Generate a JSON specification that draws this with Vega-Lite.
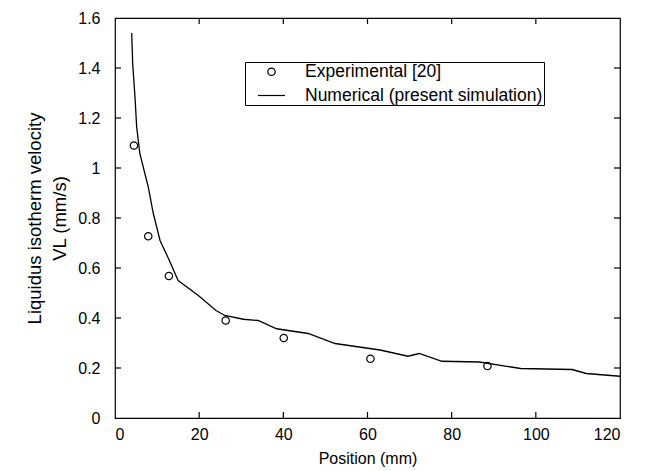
{
  "$schema": "https://vega.github.io/schema/vega-lite/v6.json",
  "width": 505,
  "height": 400,
  "autosize": "none",
  "padding": {"left": 115, "top": 18, "right": 28, "bottom": 53},
  "background": "white",
  "config": {
    "view": {"stroke": "black", "strokeWidth": 1.2},
    "font": "Liberation Sans",
    "axis": {
      "grid": false, "domain": false, "ticks": false,
      "labelColor": "black", "labelFontSize": 16, "labelFont": "Liberation Sans",
      "titleColor": "black", "titleFontWeight": "normal", "titleFont": "Liberation Sans"
    }
  },
  "datasets": {
    "exp": [
      {"x": 4.5, "y": 1.09, "series": "Experimental [20]"},
      {"x": 7.9, "y": 0.727, "series": "Experimental [20]"},
      {"x": 12.8, "y": 0.568, "series": "Experimental [20]"},
      {"x": 26.3, "y": 0.39, "series": "Experimental [20]"},
      {"x": 40.1, "y": 0.32, "series": "Experimental [20]"},
      {"x": 60.7, "y": 0.237, "series": "Experimental [20]"},
      {"x": 88.5, "y": 0.208, "series": "Experimental [20]"}
    ],
    "num": [
      {"x": 3.97, "y": 1.54},
      {"x": 4.2, "y": 1.418},
      {"x": 4.75, "y": 1.284},
      {"x": 5.15, "y": 1.164},
      {"x": 5.9, "y": 1.058},
      {"x": 7.9, "y": 0.924},
      {"x": 9.1, "y": 0.818},
      {"x": 10.7, "y": 0.71},
      {"x": 12.7, "y": 0.638},
      {"x": 15.0, "y": 0.55},
      {"x": 19.8, "y": 0.49},
      {"x": 24.0, "y": 0.43},
      {"x": 26.1, "y": 0.41},
      {"x": 30.5, "y": 0.395},
      {"x": 34.0, "y": 0.39},
      {"x": 38.4, "y": 0.357},
      {"x": 45.9, "y": 0.338},
      {"x": 52.3, "y": 0.298},
      {"x": 60.5, "y": 0.278},
      {"x": 63.0, "y": 0.272},
      {"x": 69.6, "y": 0.247},
      {"x": 72.3, "y": 0.258},
      {"x": 77.7, "y": 0.227},
      {"x": 86.6, "y": 0.224},
      {"x": 96.4, "y": 0.198},
      {"x": 108.6, "y": 0.194},
      {"x": 112.0, "y": 0.178},
      {"x": 120.0, "y": 0.167}
    ],
    "xticks": [{"v": 20}, {"v": 40}, {"v": 60}, {"v": 80}, {"v": 100}],
    "yticks": [{"v": 0.2}, {"v": 0.4}, {"v": 0.6}, {"v": 0.8}, {"v": 1.0}, {"v": 1.2}, {"v": 1.4}]
  },
  "layer": [
    {
      "data": {"name": "num"},
      "mark": {"type": "line", "color": "black", "strokeWidth": 1.3, "clip": true},
      "encoding": {
        "x": {"field": "x", "type": "quantitative", "scale": {"domain": [0, 120], "nice": false},
          "axis": {"orient": "bottom", "values": [0, 20, 40, 60, 80, 100, 120], "format": "~r", "title": "Position (mm)", "titleFontSize": 16, "labelPadding": 8, "titlePadding": 8}},
        "y": {"field": "y", "type": "quantitative", "scale": {"domain": [0, 1.6], "nice": false},
          "axis": {"orient": "left", "values": [0, 0.2, 0.4, 0.6, 0.8, 1, 1.2, 1.4, 1.6], "format": "~r", "title": ["Liquidus isotherm velocity", "VL (mm/s)"], "titleFontSize": 18.5, "titleLineHeight": 25, "labelPadding": 15, "titlePadding": 8}}
      }
    },
    {
      "data": {"name": "xticks"},
      "mark": {"type": "rule", "strokeWidth": 1.2, "color": "black", "opacity": 1},
      "encoding": {
        "x": {"field": "v", "type": "quantitative", "scale": {"domain": [0, 120], "nice": false}, "axis": null},
        "y": {"datum": 0, "type": "quantitative", "scale": {"domain": [0, 1.6], "nice": false}, "axis": null},
        "y2": {"datum": 0.024}
      }
    },
    {
      "data": {"name": "xticks"},
      "mark": {"type": "rule", "strokeWidth": 1.2, "color": "black", "opacity": 1},
      "encoding": {
        "x": {"field": "v", "type": "quantitative", "scale": {"domain": [0, 120], "nice": false}, "axis": null},
        "y": {"datum": 1.576, "type": "quantitative", "scale": {"domain": [0, 1.6], "nice": false}, "axis": null},
        "y2": {"datum": 1.6}
      }
    },
    {
      "data": {"name": "yticks"},
      "mark": {"type": "rule", "strokeWidth": 1.2, "color": "black", "opacity": 1},
      "encoding": {
        "y": {"field": "v", "type": "quantitative", "scale": {"domain": [0, 1.6], "nice": false}, "axis": null},
        "x": {"datum": 0, "type": "quantitative", "scale": {"domain": [0, 120], "nice": false}, "axis": null},
        "x2": {"datum": 1.43}
      }
    },
    {
      "data": {"name": "yticks"},
      "mark": {"type": "rule", "strokeWidth": 1.2, "color": "black", "opacity": 1},
      "encoding": {
        "y": {"field": "v", "type": "quantitative", "scale": {"domain": [0, 1.6], "nice": false}, "axis": null},
        "x": {"datum": 118.57, "type": "quantitative", "scale": {"domain": [0, 120], "nice": false}, "axis": null},
        "x2": {"datum": 120}
      }
    },
    {
      "data": {"name": "exp"},
      "mark": {"type": "point", "filled": false, "color": "black", "strokeWidth": 1.2, "opacity": 1},
      "encoding": {
        "x": {"field": "x", "type": "quantitative", "scale": {"domain": [0, 120], "nice": false}, "axis": null},
        "y": {"field": "y", "type": "quantitative", "scale": {"domain": [0, 1.6], "nice": false}, "axis": null},
        "shape": {"field": "series", "type": "nominal",
          "scale": {"domain": ["Experimental [20]", "Numerical (present simulation)"], "range": ["circle", "stroke"]},
          "legend": {"title": null, "orient": "none", "legendX": 130, "legendY": 44, "strokeColor": "black", "padding": 1,
            "labelFontSize": 17.5, "labelFont": "Liberation Sans", "labelColor": "black", "labelLimit": 0,
            "symbolStrokeColor": "black", "symbolFillColor": "transparent", "symbolOpacity": 1, "symbolStrokeWidth": 1.2,
            "symbolOffset": 11, "rowPadding": -2, "labelOffset": 19}},
        "size": {"field": "series", "type": "nominal",
          "scale": {"domain": ["Experimental [20]", "Numerical (present simulation)"], "range": [55, 729]},
          "legend": {"title": null, "orient": "none", "legendX": 130, "legendY": 44}}
      }
    }
  ],
  "resolve": {"axis": {"x": "independent", "y": "independent"}}
}
